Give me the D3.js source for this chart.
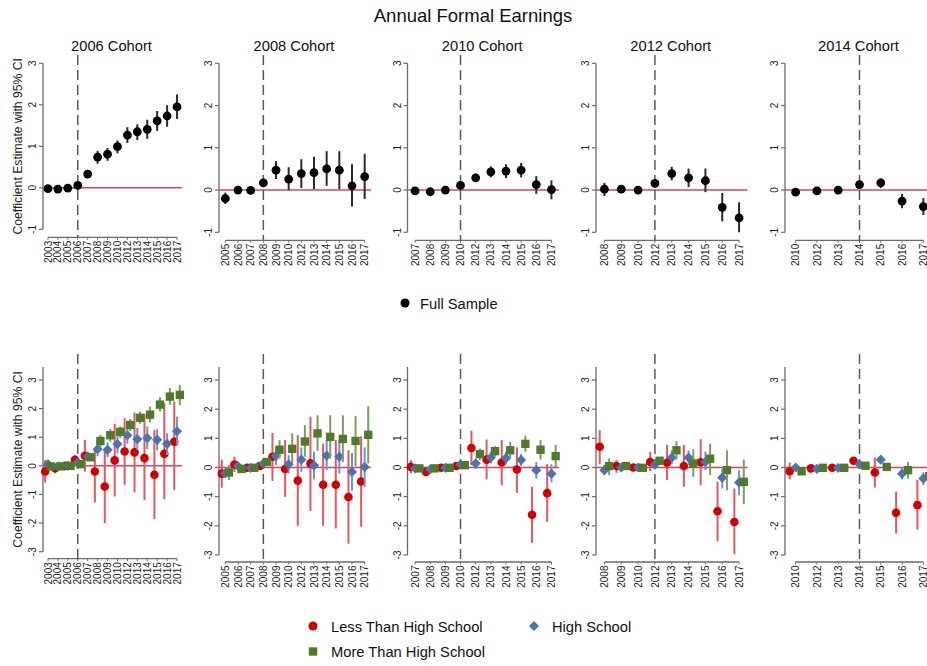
<!DOCTYPE html>
<html>
<head>
<meta charset="utf-8">
<script src="https://cdn.jsdelivr.net/npm/d3@7"></script>
<style>
  body { margin: 0; background: #fff; }
  svg { display: block; font-family: "Liberation Sans", Arial, sans-serif; }
</style>
</head>
<body>
<svg id="chart" width="927" height="666"></svg>
<script>
// ---- data ----
const cohorts = ["2006 Cohort", "2008 Cohort", "2010 Cohort", "2012 Cohort", "2014 Cohort"];
const treatYears = ["2006", "2008", "2010", "2012", "2014"];

const years2006 = ["2003","2004","2005","2006","2007","2008","2009","2010","2012","2013","2014","2015","2016","2017"];
const years2008 = ["2005","2006","2007","2008","2009","2010","2012","2013","2014","2015","2016","2017"];
const years2010 = ["2007","2008","2009","2010","2012","2013","2014","2015","2016","2017"];
const years2012 = ["2008","2009","2010","2012","2013","2014","2015","2016","2017"];
const years2014 = ["2010","2012","2013","2014","2015","2016","2017"];

// full sample: [estimate, low, high]
const full2006 = [[-0.02,-0.07,0.03],[-0.03,-0.08,0.02],[-0.01,-0.06,0.04],[0.06,-0.04,0.16],[0.33,0.25,0.41],[0.74,0.58,0.89],[0.81,0.65,0.96],[0.99,0.83,1.14],[1.27,1.08,1.46],[1.35,1.15,1.53],[1.41,1.18,1.64],[1.61,1.37,1.85],[1.73,1.47,1.99],[1.95,1.66,2.25]];
const full2008 = [[-0.20,-0.33,-0.06],[0.00,-0.05,0.05],[-0.01,-0.06,0.04],[0.17,0.07,0.27],[0.47,0.26,0.68],[0.26,0.00,0.54],[0.39,0.05,0.73],[0.41,0.02,0.79],[0.50,0.10,0.92],[0.47,0.02,0.92],[0.10,-0.39,0.61],[0.32,-0.21,0.86]];
const full2010 = [[-0.02,-0.07,0.03],[-0.04,-0.09,0.01],[0.00,-0.05,0.05],[0.11,0.03,0.19],[0.29,0.20,0.39],[0.43,0.30,0.56],[0.45,0.28,0.61],[0.47,0.30,0.64],[0.13,-0.09,0.33],[0.01,-0.22,0.23]];
const full2012 = [[0.02,-0.14,0.17],[0.02,-0.03,0.07],[0.00,-0.05,0.05],[0.16,0.06,0.26],[0.39,0.23,0.55],[0.29,0.07,0.51],[0.22,-0.05,0.51],[-0.41,-0.74,-0.07],[-0.66,-1.00,-0.29]];
const full2014 = [[-0.05,-0.10,0.00],[-0.02,-0.07,0.03],[0.00,-0.05,0.05],[0.13,0.06,0.20],[0.17,0.05,0.27],[-0.26,-0.43,-0.09],[-0.39,-0.59,-0.19]];

// by education: less than HS / HS / more than HS
const lths2006 = [[-0.20,-0.58,0.21],[-0.08,-0.26,0.09],[0.00,-0.10,0.10],[0.21,0.00,0.38],[0.35,-0.20,0.91],[-0.20,-1.28,0.56],[-0.72,-2.00,0.56],[0.19,-1.07,1.47],[0.50,-0.66,1.67],[0.47,-0.93,1.86],[0.27,-1.19,1.82],[-0.31,-1.86,1.26],[0.42,-1.17,2.19],[0.84,-0.84,2.25]];
const hs2006 = [[0.06,-0.04,0.16],[-0.02,-0.10,0.06],[0.00,-0.06,0.06],[0.12,0.02,0.22],[0.33,0.22,0.44],[0.58,0.33,0.85],[0.56,0.30,0.82],[0.76,0.44,1.08],[1.07,0.77,1.38],[0.93,0.56,1.33],[0.97,0.58,1.38],[0.91,0.54,1.28],[0.77,0.38,1.14],[1.21,0.70,1.72]];
const mths2006 = [[-0.02,-0.08,0.04],[-0.02,-0.08,0.04],[0.00,-0.05,0.05],[0.06,-0.02,0.14],[0.30,0.20,0.40],[0.87,0.65,1.08],[1.07,0.84,1.29],[1.19,0.97,1.38],[1.43,1.22,1.64],[1.68,1.47,1.90],[1.79,1.52,2.07],[2.14,1.90,2.40],[2.42,2.13,2.72],[2.48,2.12,2.83]];

const lths2008 = [[-0.21,-0.69,0.27],[0.10,-0.15,0.37],[-0.01,-0.08,0.06],[0.05,-0.05,0.15],[0.37,-0.46,1.19],[-0.05,-1.01,0.94],[-0.45,-2.00,1.11],[0.14,-1.49,1.74],[-0.59,-2.00,0.82],[-0.59,-2.09,0.94],[-1.01,-2.61,0.59],[-0.48,-2.03,1.07]];
const hs2008 = [[-0.20,-0.33,-0.07],[0.05,-0.03,0.13],[-0.01,-0.06,0.04],[0.14,0.06,0.22],[0.40,0.08,0.71],[0.11,-0.21,0.42],[0.27,-0.15,0.69],[0.07,-0.41,0.54],[0.41,-0.09,0.94],[0.37,-0.21,0.94],[-0.15,-0.80,0.50],[0.02,-0.66,0.69]];
const mths2008 = [[-0.17,-0.43,0.08],[-0.05,-0.12,0.02],[-0.01,-0.06,0.04],[0.19,0.10,0.28],[0.61,0.31,0.94],[0.64,0.14,1.17],[0.89,0.37,1.45],[1.17,0.57,1.79],[1.05,0.31,1.79],[0.98,0.19,1.79],[0.91,0.05,1.76],[1.12,0.14,2.10]];

const lths2010 = [[0.02,-0.20,0.25],[-0.15,-0.23,-0.07],[-0.01,-0.08,0.06],[0.05,-0.03,0.13],[0.67,0.08,1.26],[0.27,-0.41,0.96],[0.17,-0.61,0.94],[-0.07,-0.87,0.69],[-1.62,-2.58,-0.66],[-0.88,-1.86,0.11]];
const hs2010 = [[-0.03,-0.08,0.02],[-0.06,-0.12,0.00],[-0.01,-0.06,0.04],[0.11,0.04,0.18],[0.14,-0.05,0.31],[0.34,0.14,0.54],[0.32,0.11,0.54],[0.26,0.05,0.46],[-0.09,-0.38,0.19],[-0.21,-0.51,0.11]];
const mths2010 = [[-0.03,-0.08,0.02],[-0.03,-0.08,0.02],[-0.01,-0.06,0.04],[0.08,0.02,0.14],[0.46,0.25,0.65],[0.56,0.37,0.73],[0.59,0.31,0.88],[0.81,0.54,1.09],[0.61,0.27,0.94],[0.39,0.02,0.77]];

const lths2012 = [[0.71,0.11,1.28],[0.05,-0.18,0.25],[0.00,-0.06,0.06],[0.19,-0.13,0.54],[0.16,-0.43,0.77],[0.05,-0.66,0.77],[0.18,-0.61,0.97],[-1.50,-2.53,-0.49],[-1.87,-2.97,-0.72]];
const hs2012 = [[-0.09,-0.26,0.08],[0.00,-0.06,0.06],[0.00,-0.05,0.05],[0.10,0.00,0.20],[0.34,0.11,0.59],[0.34,0.08,0.59],[0.19,-0.09,0.54],[-0.35,-0.72,-0.03],[-0.51,-0.95,-0.09]];
const mths2012 = [[0.05,-0.26,0.31],[0.05,-0.02,0.12],[-0.01,-0.07,0.05],[0.23,0.10,0.35],[0.59,0.27,0.90],[0.14,-0.32,0.62],[0.30,-0.26,0.82],[-0.09,-0.78,0.59],[-0.49,-1.26,0.27]];

const lths2014 = [[-0.13,-0.41,0.17],[-0.03,-0.10,0.04],[-0.01,-0.07,0.05],[0.23,0.10,0.36],[-0.17,-0.69,0.34],[-1.55,-2.26,-0.83],[-1.29,-2.13,-0.43]];
const hs2014 = [[0.00,-0.06,0.06],[-0.05,-0.11,0.01],[-0.01,-0.06,0.04],[0.11,0.04,0.18],[0.27,0.15,0.39],[-0.21,-0.41,0.00],[-0.38,-0.60,-0.16]];
const mths2014 = [[-0.13,-0.20,-0.06],[-0.01,-0.06,0.04],[-0.01,-0.06,0.04],[0.06,0.00,0.12],[0.02,-0.04,0.08],[-0.09,-0.38,0.19],[-0.30,-0.60,0.00]];

const topTicks = [-1, 0, 1, 2, 3];
const botTicks = [-3, -2, -1, 0, 1, 2, 3];
const groupNames = ["Less Than High School", "High School", "More Than High School"];

// ---- layout ----
const yearsList = [years2006, years2008, years2010, years2012, years2014];
const fullList = [full2006, full2008, full2010, full2012, full2014];
const groupLists = [
  [lths2006, lths2008, lths2010, lths2012, lths2014],
  [hs2006, hs2008, hs2010, hs2012, hs2014],
  [mths2006, mths2008, mths2010, mths2012, mths2014]
];
const panelLeft = [43, 219, 407.5, 596, 785];
const panelWidth = [139, 152, 151.5, 151.5, 149];
const dodge = [-0.28, 0, 0.28];
const groupColor = ["#d00000", "#4a74b4", "#4e7a2b"];
const ciColor = ["#e4575c", "#6f93cc", "#7d9d5e"];
const zeroColor = "#d9416a";

const svg = d3.select("#chart");

svg.append("text").attr("x", 473).attr("y", 22).attr("text-anchor", "middle")
  .attr("font-size", 18.5).attr("fill", "#111").text("Annual Formal Earnings");

function drawAxes(g, i, x, y, domTop, axisY, dashTop, isTop) {
  const L = panelLeft[i], R = L + panelWidth[i];
  const yrs = yearsList[i];
  // y axis line
  g.append("line").attr("x1", L).attr("x2", L).attr("y1", y(y.domain()[0])).attr("y2", y(domTop))
    .attr("stroke", "#6b6b6b").attr("stroke-width", 1.3);
  const ticks = isTop ? topTicks : botTicks;
  ticks.forEach(t => {
    g.append("line").attr("x1", L - 4).attr("x2", L).attr("y1", y(t)).attr("y2", y(t))
      .attr("stroke", "#6b6b6b").attr("stroke-width", 1.2);
    g.append("text").attr("transform", `translate(${L - 7},${y(t)}) rotate(-90)`)
      .attr("text-anchor", "middle").attr("font-size", 10).attr("fill", "#222").text(t);
  });
  // x axis line
  g.append("line").attr("x1", x(yrs[0])).attr("x2", x(yrs[yrs.length - 1])).attr("y1", axisY).attr("y2", axisY)
    .attr("stroke", "#6b6b6b").attr("stroke-width", 1.3);
  yrs.forEach(yr => {
    g.append("line").attr("x1", x(yr)).attr("x2", x(yr)).attr("y1", axisY).attr("y2", axisY + 2.5)
      .attr("stroke", "#6b6b6b").attr("stroke-width", 1);
    g.append("text").attr("transform", `translate(${x(yr) + 3.6},${axisY + 3.5}) rotate(-90)`)
      .attr("text-anchor", "end").attr("font-size", 10).attr("fill", "#222").text(yr);
  });
  // zero line
  g.append("line").attr("x1", L).attr("x2", R).attr("y1", y(0)).attr("y2", y(0))
    .attr("stroke", zeroColor).attr("stroke-width", 1.5);
  // treatment year
  g.append("line").attr("x1", x(treatYears[i])).attr("x2", x(treatYears[i]))
    .attr("y1", dashTop).attr("y2", axisY)
    .attr("stroke", "#5a5a5a").attr("stroke-width", 1.5).attr("stroke-dasharray", "10,5");
}

// ---- top row: full sample ----
cohorts.forEach((name, i) => {
  const L = panelLeft[i], W = panelWidth[i];
  const g = svg.append("g");
  const x = d3.scalePoint().domain(yearsList[i]).range([L, L + W]).padding(0.5);
  const yBottom = i === 0 ? 229.3 : 232.3;
  const y = d3.scaleLinear().domain([-1, 3]).range([yBottom, 63.3]);
  const axisY = yBottom + 8;
  g.append("text").attr("x", L + W / 2 - 1).attr("y", 51).attr("text-anchor", "middle")
    .attr("font-size", 14.7).attr("fill", "#111").text(name);
  drawAxes(g, i, x, y, 3, axisY, 55, true);
  const d = fullList[i];
  g.selectAll(".ci").data(d).join("line")
    .attr("x1", (v, k) => x(yearsList[i][k])).attr("x2", (v, k) => x(yearsList[i][k]))
    .attr("y1", v => y(v[1])).attr("y2", v => y(v[2]))
    .attr("stroke", "#2a2a2a").attr("stroke-width", 2);
  g.selectAll(".pt").data(d).join("circle")
    .attr("cx", (v, k) => x(yearsList[i][k])).attr("cy", v => y(v[0])).attr("r", 4.4)
    .attr("fill", "#000");
  if (i === 0) {
    g.append("text").attr("transform", `translate(21.5,${(y(-1) + y(3)) / 2}) rotate(-90)`)
      .attr("text-anchor", "middle").attr("font-size", 12.2).attr("fill", "#222")
      .text("Coefficient Estimate with 95% CI");
  }
});

svg.append("circle").attr("cx", 405).attr("cy", 303).attr("r", 4.5).attr("fill", "#000");
svg.append("text").attr("x", 420).attr("y", 308.5).attr("font-size", 14.7).attr("fill", "#111").text("Full Sample");

// ---- bottom row: by education ----
const diamond = d3.symbol().type(d3.symbolDiamond2).size(66);
const square = d3.symbol().type(d3.symbolSquare).size(70);

cohorts.forEach((name, i) => {
  const L = panelLeft[i], W = panelWidth[i];
  const g = svg.append("g");
  const x = d3.scalePoint().domain(yearsList[i]).range([L, L + W]).padding(0.5);
  const yBottom = i === 0 ? 551.7 : 555;
  const y = d3.scaleLinear().domain([-3, 3]).range([yBottom, 380]);
  const axisY = yBottom + 7;
  drawAxes(g, i, x, y, 3.45, axisY, 354, false);
  const step = x.step();
  groupLists.forEach((lists, gi) => {
    const d = lists[i];
    const px = k => x(yearsList[i][k]) + dodge[gi] * step;
    g.selectAll(".ci" + gi).data(d).join("line")
      .attr("x1", (v, k) => px(k)).attr("x2", (v, k) => px(k))
      .attr("y1", v => y(v[1])).attr("y2", v => y(v[2]))
      .attr("stroke", ciColor[gi]).attr("stroke-width", 2);
    if (gi === 0) {
      g.selectAll(".m0").data(d).join("circle")
        .attr("cx", (v, k) => px(k)).attr("cy", v => y(v[0])).attr("r", 4.3)
        .attr("fill", groupColor[0]);
    } else {
      g.selectAll(".m" + gi).data(d).join("path")
        .attr("d", gi === 1 ? diamond : square)
        .attr("transform", (v, k) => `translate(${px(k)},${y(v[0])})`)
        .attr("fill", groupColor[gi]);
    }
  });
  if (i === 0) {
    g.append("text").attr("transform", `translate(21.5,${(y(-3) + y(3.45)) / 2}) rotate(-90)`)
      .attr("text-anchor", "middle").attr("font-size", 12.2).attr("fill", "#222")
      .text("Coefficient Estimate with 95% CI");
  }
});

// legend
const leg = [
  { x: 313, y: 626, tx: 331 },
  { x: 534, y: 626, tx: 552 },
  { x: 313, y: 651.5, tx: 331 }
];
leg.forEach((p, gi) => {
  if (gi === 0) svg.append("circle").attr("cx", p.x).attr("cy", p.y).attr("r", 4.5).attr("fill", groupColor[0]);
  else svg.append("path").attr("d", gi === 1 ? diamond : square)
    .attr("transform", `translate(${p.x},${p.y})`).attr("fill", groupColor[gi]);
  svg.append("text").attr("x", p.tx).attr("y", p.y + 5.5).attr("font-size", 14.7).attr("fill", "#111")
    .text(groupNames[gi]);
});
</script>
</body>
</html>
